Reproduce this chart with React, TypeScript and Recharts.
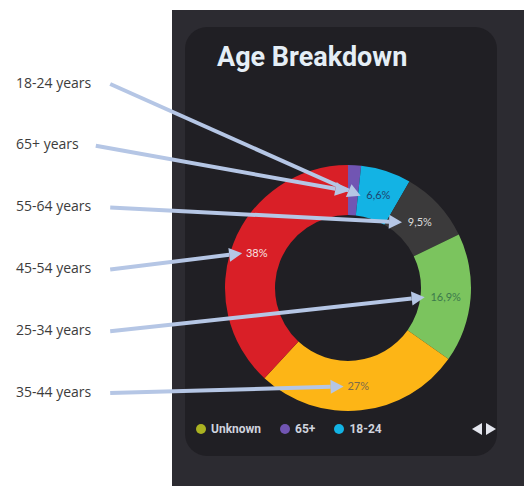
import { PieChart, Pie, Cell, Legend } from "recharts";

// slices clockwise from 12 o'clock
const ageGroups = ["65+", "18-24", "55-64", "25-34", "35-44", "45-54"];
const shares = [1.7, 6.6, 9.5, 16.9, 27, 38];

// legend page shown (first page of a paged legend)
const legendNames = ["Unknown", "65+", "18-24"];

// callouts on the left, top to bottom
const calloutOrder = ["18-24", "65+", "55-64", "45-54", "25-34", "35-44"];

const COLORS: Record<string, string> = {
    "Unknown": "#aab221",
    "65+": "#7155b3",
    "18-24": "#13b3e4",
    "55-64": "#3b3a3b",
    "25-34": "#7bc45e",
    "35-44": "#fdb516",
    "45-54": "#d91f27",
};

const LABEL_COLORS: Record<string, string> = {
    "18-24": "#1d4470",
    "55-64": "#dcdcdc",
    "25-34": "#3c7a4c",
    "35-44": "#7d6b4c",
    "45-54": "#f6e2e2",
};

const ARROW = "#b5c6e5";
const RAD = Math.PI / 180;

const pieData = ageGroups.map((name, i) => ({ name, value: shares[i] }));

const fmt = (v: number) => `${v}`.replace(".", ",") + "%";

const renderLabel = (props: any) => {
    const { cx, cy, midAngle, innerRadius, outerRadius, name, value } = props;
    const r = (innerRadius + outerRadius) / 2;
    const lx = cx + r * Math.cos(-midAngle * RAD);
    const ly = cy + r * Math.sin(-midAngle * RAD);
    const text = fmt(value);
    const showText = value >= 3;
    const half = showText ? text.length * 3.2 : 0;

    // arrow from the callout text on the left to just before the label
    const idx = calloutOrder.indexOf(name);
    const calloutText = `${name} years`;
    const sx = 16 + calloutText.length * 7.2 + 15;
    const sy = 84 + idx * 61.8;
    const tx = lx - half - 5;
    const ty = ly + 1;
    const ang = Math.atan2(ty - sy, tx - sx);
    const len = 13;
    const w = 7;
    const bx = tx - len * Math.cos(ang);
    const by = ty - len * Math.sin(ang);
    const p1 = `${bx + w * Math.sin(ang)},${by - w * Math.cos(ang)}`;
    const p2 = `${bx - w * Math.sin(ang)},${by + w * Math.cos(ang)}`;

    return (
        <g>
            {showText && (
                <text
                    x={lx}
                    y={ly}
                    textAnchor="middle"
                    dominantBaseline="central"
                    fontFamily="Lato"
                    fontSize={11}
                    fill={LABEL_COLORS[name]}
                >
                    {text}
                </text>
            )}
            <text x={16} y={sy - 2} dominantBaseline="central" fontFamily="Open Sans" fontSize={14} fill="#3c3c3c">
                {calloutText}
            </text>
            <line x1={sx} y1={sy} x2={bx} y2={by} stroke={ARROW} strokeWidth={4} />
            <polygon points={`${tx},${ty} ${p1} ${p2}`} fill={ARROW} />
        </g>
    );
};

const renderLegend = () => (
    <div style={{ display: "flex", alignItems: "center", fontFamily: "Roboto", fontWeight: 700, fontSize: 12, color: "#cfd3de" }}>
        {legendNames.map((name) => (
            <div key={name} style={{ display: "flex", alignItems: "center", marginRight: 19 }}>
                <span style={{ width: 10, height: 10, borderRadius: 5, background: COLORS[name], marginRight: 5 }} />
                <span>{name}</span>
            </div>
        ))}
        <svg width={26} height={12} style={{ marginLeft: "auto" }}>
            <polygon points="0,6 10,0 10,12" fill="#e4e6ee" />
            <polygon points="14,0 24,6 14,12" fill="#e4e6ee" />
        </svg>
    </div>
);

const App = () => {
    return (
        <div style={{ position: "absolute", left: 0, top: 0, width: 524, height: 486, background: "#ffffff", overflow: "hidden" }}>
            <div style={{ position: "absolute", left: 172, top: 10, width: 352, height: 476, background: "#2c2b31" }} />
            <div style={{ position: "absolute", left: 185, top: 27, width: 312, height: 429, borderRadius: 22, background: "#201f24" }} />
            <div
                style={{
                    position: "absolute",
                    left: 217,
                    top: 44,
                    fontFamily: "Roboto",
                    fontWeight: 700,
                    fontSize: 27,
                    lineHeight: "27px",
                    color: "#e5eef6",
                }}
            >
                Age Breakdown
            </div>
            <div style={{ position: "absolute", left: 0, top: 0 }}>
                <PieChart width={524} height={486} margin={{ top: 0, right: 0, bottom: 0, left: 0 }}>
                    <Pie
                        data={pieData}
                        dataKey="value"
                        nameKey="name"
                        cx={348}
                        cy={288}
                        innerRadius={73}
                        outerRadius={123}
                        startAngle={90}
                        endAngle={-270}
                        stroke="none"
                        label={renderLabel}
                        labelLine={false}
                        isAnimationActive={false}
                    >
                        {pieData.map((d) => (
                            <Cell key={d.name} fill={COLORS[d.name]} />
                        ))}
                    </Pie>
                    <Legend
                        content={renderLegend}
                        wrapperStyle={{ position: "absolute", left: 196, top: 422, width: 302, height: 14 }}
                    />
                </PieChart>
            </div>
        </div>
    );
};

export default App;
